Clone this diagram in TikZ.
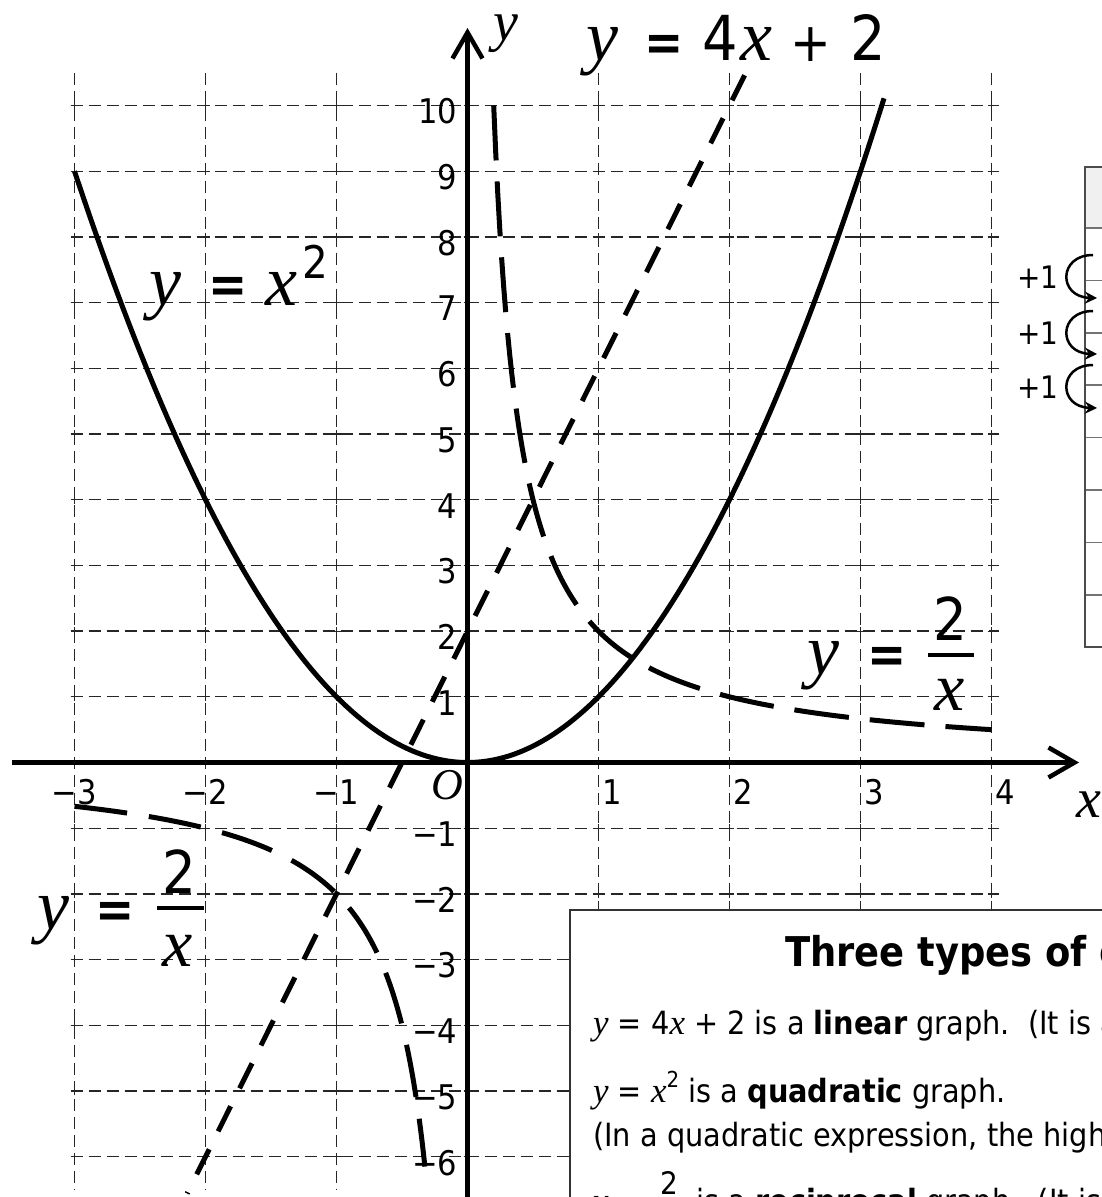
\documentclass[tikz,border=0pt]{standalone}
\usepackage{fontspec}
\setmainfont{DejaVu Sans}[FakeStretch=0.9]
\newfontfamily\lserif{Liberation Serif}
\usetikzlibrary{arrows.meta}
\newcommand{\fsz}[1]{\fontsize{#1}{#1}\selectfont}
\newcommand{\ivar}[2]{{\fsz{#1}\lserif\itshape #2}}
\begin{document}
\begin{tikzpicture}[x=1pt,y=-1pt,
  gridline/.style={line width=1.3pt,dash pattern=on 12pt off 6pt,black!85},
  gtick/.style={line width=1.2pt,black!85},
  curve/.style={line width=5pt},
  axisline/.style={line width=4.5pt,-{Straight Barb[length=26pt,width=30pt]}},
  ticklab/.style={inner sep=0pt,font=\fsz{34}},
  eqpart/.style={inner sep=0pt,anchor=base west},
  bigvar/.style={inner sep=0pt,anchor=base west,font={\fsz{72}\lserif\itshape}},
  eqsign/.style={inner sep=0pt,anchor=base,font={\fsz{52}\bfseries}},
  boxtext/.style={inner sep=0pt,anchor=base west,font=\fsz{32}},
  plusone/.style={inner sep=0pt,font=\fsz{31}},
  looparrow/.style={line width=2.5pt,-{Stealth[length=12pt,width=12pt]}},
]
\useasboundingbox (0,0) rectangle (1102,1197);
\clip (0,0) rectangle (1102,1197);
\fill[white] (0,0) rectangle (1102,1197);

\begin{scope}[shift={(467.5,762.5)},x=131pt,y=65.7pt]
  % grid
  \foreach \i in {-3,...,4} \draw[gridline] (\i,10.5) -- (\i,-6.5);
  \foreach \j in {-6,...,10} \draw[gridline] (-3.03,\j) -- (4.06,\j);
  \foreach \i in {-3,...,4} \foreach \j in {-6,...,10}
    \draw[gtick] ([xshift=-4pt]\i,\j) -- ([xshift=4pt]\i,\j)
                 ([yshift=-4pt]\i,\j) -- ([yshift=4pt]\i,\j);
  % axes
  \draw[axisline] (-3.477,0) -- (4.668,0);
  \draw[axisline] (0,-6.8) -- (0,11.18);
  % tick labels
  \foreach \v/\t in {10/10,9/9,8/8,7/7,6/6,5/5,4/4,3/3,2/2,1/1,-1/−1,-2/−2,-3/−3,-4/−4,-5/−5,-6/−6}
    \node[ticklab,anchor=east] (ylab\v) at ([xshift=-10pt,yshift=-6pt]0,\v) {\t};
  \foreach \v/\t in {-3/−3,-2/−2,-1/−1}
    \node[ticklab] (xlab\v) at ([yshift=-29.5pt]\v,0) {\t};
  \foreach \v in {1,2,3,4}
    \node[ticklab,anchor=west] (xlab\v) at ([xshift=4pt,yshift=-29.5pt]\v,0) {\v};
  \node[inner sep=0pt,font={\fsz{44}\lserif\itshape}] (origin) at ([xshift=-20.5pt,yshift=-22.5pt]0,0) {O};
  % curves
  \draw[curve] plot[domain=-3:3.18,samples=150] (\x,{\x*\x});
  \draw[curve,dash pattern=on 28pt off 20pt] (2.115,10.46) -- (-2.14,-6.56);
  \draw[curve,dash pattern=on 55pt off 21pt] plot[domain=0.2:4,samples=250] (\x,{2/\x});
  \draw[curve,dash pattern=on 53pt off 22pt] plot[domain=-3:-0.325,samples=250] (\x,{2/\x});
\end{scope}

% axis labels
\node[eqpart,font={\fsz{56}\lserif\itshape}] (yaxlab) at (493,40) {y};
\node[eqpart,font={\fsz{56}\lserif\itshape}] (xaxlab) at (1076,817) {x};

% y = x^2
\node[bigvar] (sqy) at (149,305) {y};
\node[eqsign] (sqeq) at (228,302) {=};
\node[bigvar] (sqx) at (265,305) {x};
\node[eqpart,font=\fsz{45}] (sqtwo) at (302,278) {2};

% y = 4x + 2
\node[bigvar] (liny) at (586,60) {y};
\node[eqsign] (lineq) at (664,60) {=};
\node[eqpart,font=\fsz{62}] (linfour) at (702,60) {4};
\node[bigvar] (linx) at (740,60) {x};
\node[eqsign,font=\fsz{54}] (linplus) at (811,61) {+};
\node[eqpart,font=\fsz{62}] (lintwo) at (850,60) {2};

% y = 2/x (right)
\node[bigvar] (ry) at (807,674) {y};
\node[eqsign] (req) at (887,672) {=};
\draw[line width=4.5pt] (928,655) -- (974,655);
\node[eqpart,font=\fsz{59}] (rtwo) at (933,640) {2};
\node[bigvar,font={\fsz{68}\lserif\itshape}] (rx) at (934,710) {x};

% y = 2/x (left)
\node[bigvar] (ly) at (37,929) {y};
\node[eqsign] (leq) at (115,927) {=};
\draw[line width=4.5pt] (157,908) -- (204,908);
\node[eqpart,font=\fsz{59}] (ltwo) at (162,893) {2};
\node[bigvar,font={\fsz{68}\lserif\itshape}] (lx) at (162,966) {x};

% table on the right
\fill[black!6] (1085,167) rectangle (1120,228);
\foreach \k in {0,...,7}
  \draw[black!55,line width=1.5pt] (1085,{228+52.4*\k}) -- (1120,{228+52.4*\k});
\draw[black!70,line width=2pt] (1120,167) -- (1085,167) -- (1085,647) -- (1120,647);
\foreach \s/\n in {255/1,311/2,365/3} {
  \draw[looparrow] (1093,\s) .. controls (1058,\s) and (1058,\s+42) .. (1097,\s+43);
  \node[plusone] (plus\n) at (1038,\s+22) {+1};
}

% text box
\draw[black!80,line width=2pt,fill=white] (570,910) rectangle (1130,1230);
\node[inner sep=0pt,anchor=base west,font=\fsz{41}\bfseries] (title) at (785,966) {Three types of graph};
\node[boxtext] (line1) at (593,1034) {\ivar{35}{y} = 4\ivar{35}{x} + 2 is a \textbf{linear} graph.\ \ (It is a straight line.)};
\node[boxtext] (line2) at (593,1102) {\ivar{35}{y} = \ivar{35}{x}\raisebox{0.45em}{\fsz{22}2} is a \textbf{quadratic} graph.};
\node[boxtext] (line3) at (593,1146) {(In a quadratic expression, the highest power is 2.)};
\node[boxtext] (line4) at (593,1212) {\ivar{35}{y} = \hspace{36pt} is a \textbf{reciprocal} graph.\ \ (It is};
\node[eqpart,font=\fsz{31}] (fractwo) at (660,1194) {2};
\end{tikzpicture}
\end{document}
